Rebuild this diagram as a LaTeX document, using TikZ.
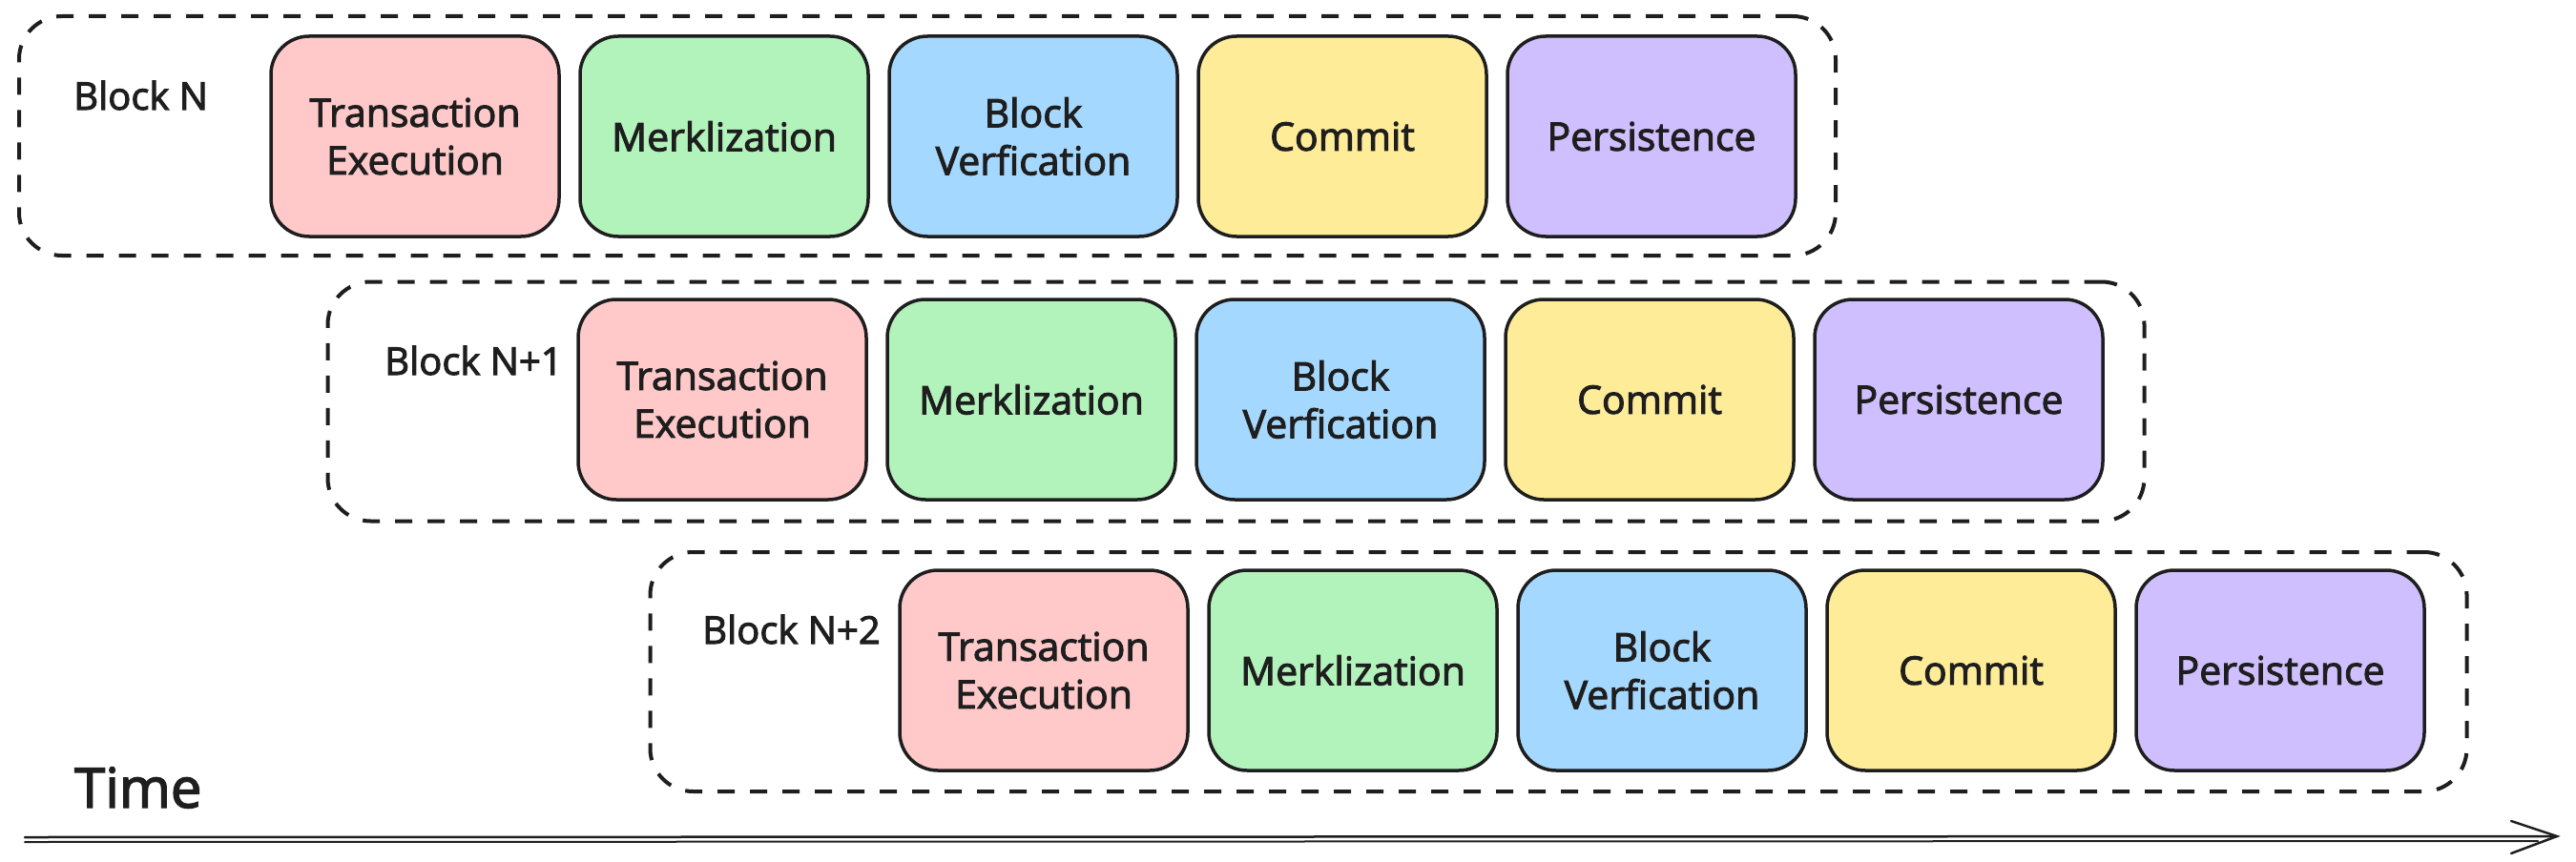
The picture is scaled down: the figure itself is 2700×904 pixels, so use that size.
\documentclass[tikz,border=0pt]{standalone}
\usepackage{fontspec}
\setmainfont{Open Sans}
\newfontfamily\sketchfam{Open Sans}[FakeBold=2.5]
\definecolor{ink}{HTML}{1E1E1E}
\definecolor{cpink}{HTML}{FFC9C9}
\definecolor{cgreen}{HTML}{B2F2BB}
\definecolor{cblue}{HTML}{A5D8FF}
\definecolor{cyellow}{HTML}{FFEC99}
\definecolor{cpurple}{HTML}{D0BFFF}
\newcommand{\stagefont}{\sketchfam\fontsize{41}{50}\selectfont}
\newcommand{\lblfont}{\sketchfam\fontsize{40}{48}\selectfont}
\newcommand{\timefont}{\sketchfam\fontsize{58}{64}\selectfont}
\begin{document}
\begin{tikzpicture}[x=1pt,y=-1pt,
  stage/.style={draw=ink, line width=3.5pt, rounded corners=40pt,
    minimum width=302pt, minimum height=210pt, inner sep=0pt,
    align=center, font=\stagefont, text=ink},
  group/.style={draw=ink, line width=4pt, dash pattern=on 18pt off 16pt,
    rounded corners=45pt, minimum width=1904pt, minimum height=251pt,
    inner sep=0pt},
  lbl/.style={anchor=west, font=\lblfont, text=ink, inner sep=0pt},
  axis/.style={draw=ink, line width=2.5pt, line cap=round}]
\useasboundingbox (0,0) rectangle (2700,904);
% groups
\node[group] (g1) at (972,142.5) {};
\node[group] (g2) at (1295.5,421) {};
\node[group] (g3) at (1633.5,704.5) {};
% labels
\node[lbl] (l1) at (77,100) {Block N};
\node[lbl] (l2) at (403,378) {Block N+1};
\node[lbl] (l3) at (736,660) {Block N+2};
% row 1
\node[stage, fill=cpink]   (a1) at (435,143)  {Transaction\\Execution};
\node[stage, fill=cgreen]  (a2) at (759,143)  {Merklization};
\node[stage, fill=cblue]   (a3) at (1083,143) {Block\\Verfication};
\node[stage, fill=cyellow] (a4) at (1407,143) {Commit};
\node[stage, fill=cpurple] (a5) at (1731,143) {Persistence};
% row 2
\node[stage, fill=cpink]   (b1) at (757,419)  {Transaction\\Execution};
\node[stage, fill=cgreen]  (b2) at (1081,419) {Merklization};
\node[stage, fill=cblue]   (b3) at (1405,419) {Block\\Verfication};
\node[stage, fill=cyellow] (b4) at (1729,419) {Commit};
\node[stage, fill=cpurple] (b5) at (2053,419) {Persistence};
% row 3
\node[stage, fill=cpink]   (c1) at (1094,703) {Transaction\\Execution};
\node[stage, fill=cgreen]  (c2) at (1418,703) {Merklization};
\node[stage, fill=cblue]   (c3) at (1742,703) {Block\\Verfication};
\node[stage, fill=cyellow] (c4) at (2066,703) {Commit};
\node[stage, fill=cpurple] (c5) at (2390,703) {Persistence};
% time
\node[anchor=west, font=\timefont, text=ink, inner sep=0pt] (time) at (78,826) {Time};
\coordinate (ts) at (26,878);
\coordinate (ts2) at (26,883);
\coordinate (te) at (2680,877);
\coordinate (te2) at (2660,882);
\coordinate (h1) at (2632,861);
\coordinate (h2) at (2632,895);
\draw[axis] (ts) -- (te);
\draw[axis, line width=2pt] (ts2) -- (te2);
\draw[axis] (h1) -- (te) -- (h2);
\end{tikzpicture}
\end{document}
